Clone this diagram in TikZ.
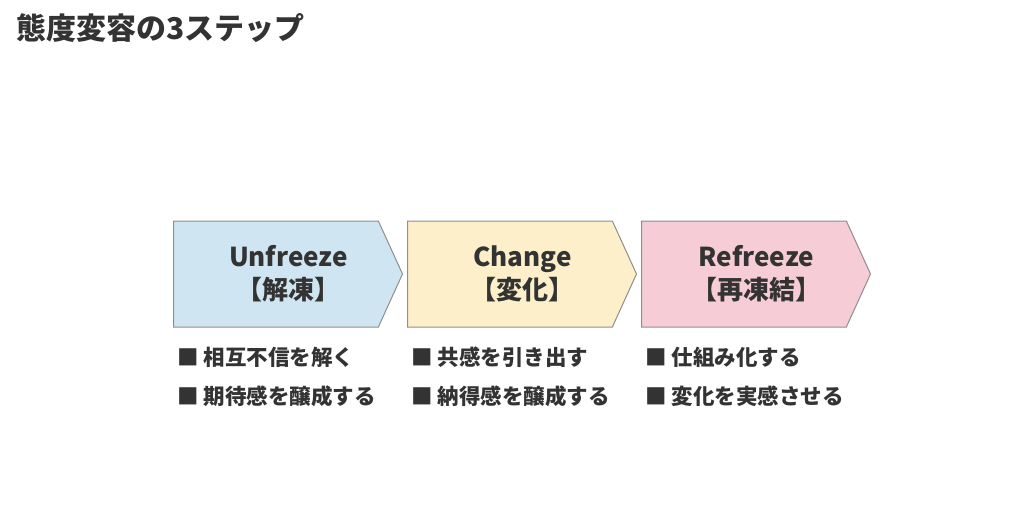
\documentclass[tikz,border=0pt]{standalone}
\usepackage{fontspec}
\usepackage{xcolor}
\usepackage{tikz}
\usetikzlibrary{shapes.symbols}
\usetikzlibrary{positioning}
\setmainfont{Noto Sans CJK JP}
\definecolor{textgray}{HTML}{333333}
\definecolor{edgegray}{HTML}{8E8E8E}
\definecolor{iceblue}{HTML}{CFE5F2}
\definecolor{sand}{HTML}{FCEFC9}
\definecolor{rose}{HTML}{F6CDD6}
\tikzstyle{stepbox}=[signal,signal to=east,signal pointer angle=131,draw=edgegray,line width=1pt,minimum width=229pt,minimum height=106pt,inner sep=0pt]
\tikzstyle{steplabel}=[inner sep=0pt,align=center,text=textgray,font=\fontsize{26}{33}\selectfont\bfseries]
\tikzstyle{point}=[anchor=west,inner sep=0pt,text=textgray,font=\fontsize{21.5}{24}\selectfont\bfseries]
\tikzstyle{heading}=[anchor=west,inner sep=0pt,text=textgray,font=\fontsize{30}{34}\selectfont\bfseries]

\begin{document}
\begin{tikzpicture}[x=1pt,y=-1pt]
    \useasboundingbox (0,0) rectangle (1024,519);
    % Title
    \node[heading] (title) at (16,28) {態度変容の3ステップ};

    % The three steps, as arrow boxes
    \foreach \pos/\name/\col/\label in {{(173,274)/unfreeze/iceblue/Unfreeze\\【解凍】},
    {(407,274)/change/sand/Change\\【変化】},
    {(641,274)/refreeze/rose/Refreeze\\【再凍結】}}
    {
        \node[stepbox,anchor=west,fill=\col] (\name) at \pos {};
        \node[steplabel] (\name-label) at ([xshift=12.5pt]\name.center) {\label};
    }

    % Two points under each step
    \foreach \x/\name/\first/\second in {177/unfreeze/相互不信を解く/期待感を醸成する,
    411/change/共感を引き出す/納得感を醸成する,
    645/refreeze/仕組み化する/変化を実感させる}
    {
        \node[point] (\name-a) at (\x,357) {■\hspace{5pt}\first};
        \node[point] (\name-b) at (\x,396) {■\hspace{5pt}\second};
    }
\end{tikzpicture}
\end{document}
